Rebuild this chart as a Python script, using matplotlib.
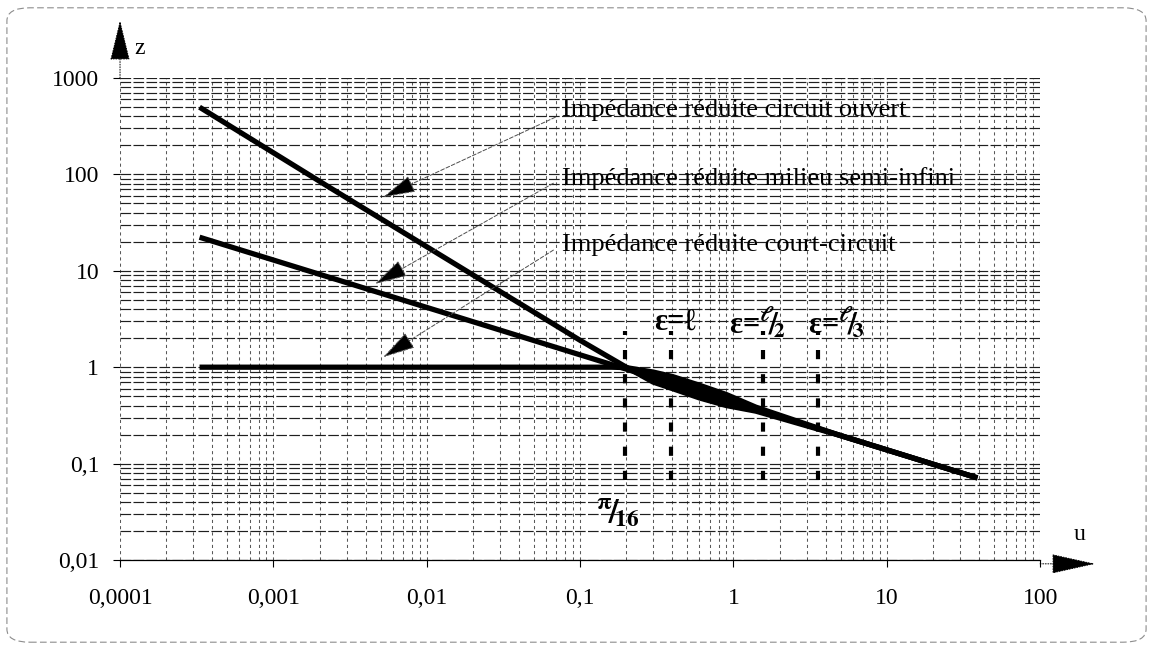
import numpy as np
import matplotlib
matplotlib.use("Agg")
import matplotlib.pyplot as plt
from matplotlib.ticker import FixedLocator, FixedFormatter, LogLocator, NullFormatter
from matplotlib.patches import FancyBboxPatch

plt.rcParams.update({
    'font.family': ['Liberation Serif', 'DejaVu Serif'],
    'mathtext.fontset': 'stix',
    'font.size': 16,
})

# courbes d'impédance réduite z(u)
u_ouvert = [3.3e-4, 2.3e-3, 0.1, 0.2, 0.3, 0.4, 0.6, 0.9, 1.4, 5, 39]
z_ouvert = [498, 74, 1.9, 1.0, 0.70, 0.60, 0.48, 0.40, 0.35, 0.195, 0.071]

u_semi = [3.3e-4, 0.01, 0.2, 1.0, 10, 39]
z_semi = [22.3, 4.17, 0.955, 0.432, 0.139, 0.071]

u_court = [3.3e-4, 0.01, 0.1, 0.16, 0.2, 0.3, 0.4, 0.6, 0.9, 1.4, 5, 39]
z_court = [1.0, 1.0, 1.0, 1.0, 0.99, 0.89, 0.80, 0.65, 0.52, 0.385, 0.195, 0.071]

# repères de profondeur de pénétration
u_eps = [np.pi / 16, np.pi / 8, np.pi / 2, 9 * np.pi / 8]
z_eps_bas, z_eps_haut = 0.067, 2.4
eps_labels = ['ε=ℓ', r'ε=$\mathbf{^{\ell}\!/\!_{2}}$', r'ε=$\mathbf{^{\ell}\!/\!_{3}}$']

x_ticks = [1e-4, 1e-3, 1e-2, 1e-1, 1, 10, 100]
x_labels = ['0,0001', '0,001', '0,01', '0,1', '1', '10', '100']
y_ticks = [0.01, 0.1, 1, 10, 100, 1000]
y_labels = ['0,01', '0,1', '1', '10', '100', '1000']

noms = ['Impédance réduite circuit ouvert',
        'Impédance réduite milieu semi-infini',
        'Impédance réduite court-circuit']

fig = plt.figure(figsize=(11.53, 6.5), dpi=100)
ax = fig.add_axes([0.1041, 0.1385, 0.798, 0.7415])
ax.set_xscale('log')
ax.set_yscale('log')
ax.set_xlim(1e-4, 100)
ax.set_ylim(0.01, 1000)

# quadrillage log type papier millimétré
ax.xaxis.set_major_locator(FixedLocator(x_ticks))
ax.xaxis.set_major_formatter(FixedFormatter(x_labels))
ax.yaxis.set_major_locator(FixedLocator(y_ticks))
ax.yaxis.set_major_formatter(FixedFormatter(y_labels))
ax.xaxis.set_minor_locator(LogLocator(base=10, subs=np.arange(2, 10)))
ax.yaxis.set_minor_locator(LogLocator(base=10, subs=np.arange(2, 10)))
ax.xaxis.set_minor_formatter(NullFormatter())
ax.yaxis.set_minor_formatter(NullFormatter())
ax.yaxis.grid(True, which='both', color='0.12', lw=0.85, ls=(0, (9, 2)))
ax.xaxis.grid(True, which='both', color='0.35', lw=0.75, ls=(0, (3, 3)))
ax.tick_params(which='minor', length=0)
ax.tick_params(axis='y', which='major', direction='out', length=5, width=0.8, pad=10, labelsize=17)
ax.tick_params(axis='x', which='major', direction='out', length=5, width=0.8, pad=15, labelsize=17)
for s in ['top', 'right', 'left']:
    ax.spines[s].set_visible(False)
ax.spines['bottom'].set_linewidth(0.9)

# courbes
lw = 3.8
ax.plot(u_ouvert, z_ouvert, color='black', lw=lw, solid_capstyle='butt', zorder=4)
ax.plot(u_semi, z_semi, color='black', lw=lw, solid_capstyle='butt', zorder=4)
ax.plot(u_court, z_court, color='black', lw=lw, solid_capstyle='butt', zorder=4)

# zone où les trois courbes se confondent (fuseau noirci)
u_fuseau = u_ouvert[3:9]
ax.fill_between(u_fuseau, z_ouvert[3:9], z_court[4:10], color='black', lw=0, zorder=4)

# traits pointillés épais
for ue in u_eps:
    ax.plot([ue, ue], [z_eps_bas, z_eps_haut], color='black', lw=3.0,
            ls=(0, (2.2, 3.6)), solid_capstyle='butt', zorder=3)

eps_x = [np.pi / 8 * 1.06, np.pi / 2 * 0.91, 9 * np.pi / 8 * 1.33]
for ux, lab in zip(eps_x, eps_labels):
    ax.text(ux, 2.9, lab, ha='center', va='center', fontsize=22, fontweight='bold', zorder=5)

ax.text(np.pi / 16 * 0.9, 0.031, r'$\mathbf{^{\pi}\!/\!_{16}}$', ha='center', va='center',
        fontsize=24, zorder=5)

# légendes fléchées
tips = [(5.2e-3, 58), (4.6e-3, 7.3), (5.2e-3, 1.27)]
tails = [(0.069, 392), (0.067, 81), (0.067, 16.4)]
text_pos = [(0.076, 464), (0.076, 91), (0.076, 18.4)]
for nom, tip, tail, tp in zip(noms, tips, tails, text_pos):
    ax.annotate('', xy=tip, xytext=tail,
                arrowprops=dict(arrowstyle='-|>,head_length=1.3,head_width=0.35',
                                lw=0.7, ls=(0, (4, 2)), edgecolor='0.3', facecolor='black',
                                shrinkA=0, shrinkB=0), zorder=5)
    ax.text(tp[0], tp[1], nom, ha='left', va='center', fontsize=19, zorder=5)

# flèches des axes
ax.annotate('', xy=(0, 1.12), xytext=(0, 1.0), xycoords='axes fraction',
            annotation_clip=False,
            arrowprops=dict(arrowstyle='-|>,head_length=1.65,head_width=0.4',
                            lw=0.7, ls=':', edgecolor='black', facecolor='black',
                            shrinkA=0, shrinkB=0))
ax.annotate('', xy=(1.06, -0.008), xytext=(1.0, -0.008), xycoords='axes fraction',
            annotation_clip=False,
            arrowprops=dict(arrowstyle='-|>,head_length=1.8,head_width=0.4',
                            lw=0.7, ls=':', edgecolor='black', facecolor='black',
                            shrinkA=0, shrinkB=0))
ax.text(0.016, 1.062, 'z', transform=ax.transAxes, ha='left', va='center', fontsize=17)
ax.text(1.036, 0.052, 'u', transform=ax.transAxes, ha='left', va='center', fontsize=17)

# cadre arrondi
cadre = FancyBboxPatch((0.006, 0.012), 0.988, 0.976, transform=fig.transFigure,
                       boxstyle='round,pad=0,rounding_size=0.02', fill=False,
                       ec='0.55', lw=0.8, ls=(0, (6, 3)))
fig.patches.append(cadre)

fig.savefig('out.png', dpi=100, facecolor='white')
